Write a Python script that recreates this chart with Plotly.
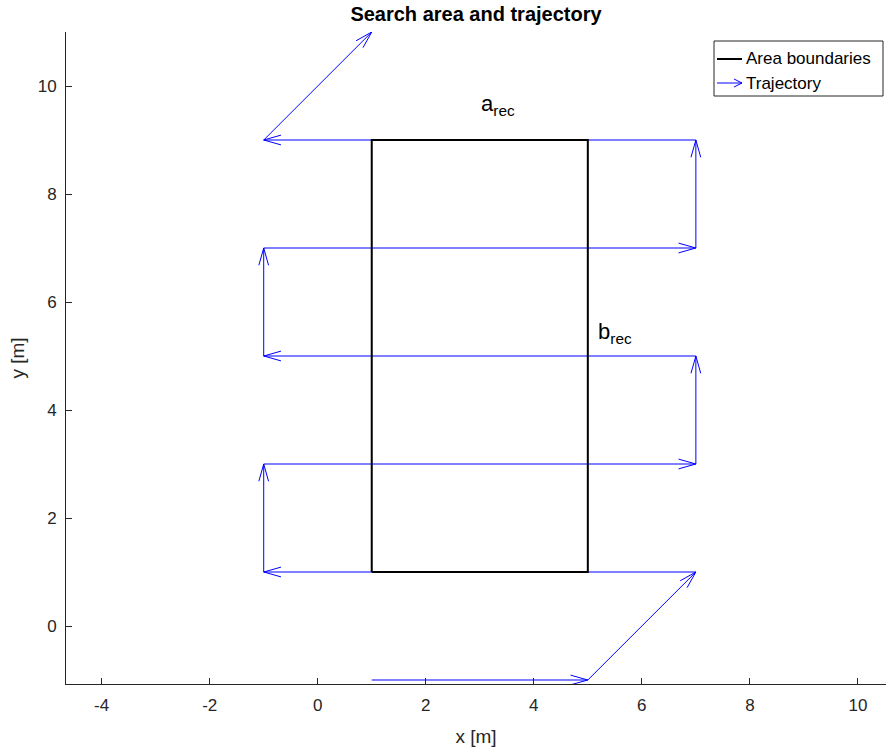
import numpy as np
import plotly.graph_objects as go

# ---- data ----
traj_x = [1, 5, 7, -1, -1, 7, 7, -1, -1, 7, 7, -1, 1]
traj_y = [-1, -1, 1, 1, 3, 3, 5, 5, 7, 7, 9, 9, 11]
rect_x = [1, 5, 5, 1, 1]
rect_y = [1, 1, 9, 9, 1]
x_ticks = [-4, -2, 0, 2, 4, 6, 8, 10]
y_ticks = [0, 2, 4, 6, 8, 10]
labels = [("a<sub>rec</sub>", 2.98, 9.64), ("b<sub>rec</sub>", 5.16, 5.42)]
legend_names = ["Area boundaries", "Trajectory"]

BLUE = "#0000FF"
AX = "#262626"
FONT = "Liberation Sans, Arial, Helvetica, sans-serif"

HEAD_L = 0.32   # arrowhead length (data units)
HEAD_W = 0.09   # arrowhead half-width (data units)

W, H = 886, 751
L, R, T, B = 66, 0, 32, 67
PW, PH = W - L - R, H - T - B


def px(xp):
    return (xp - L) / PW


def py(yp):
    return (H - B - yp) / PH


fig = go.Figure()

# trajectory shafts + heads computed from the path data
sx, sy, hx, hy = [], [], [], []
for i in range(len(traj_x) - 1):
    x0, y0, x1, y1 = traj_x[i], traj_y[i], traj_x[i + 1], traj_y[i + 1]
    sx += [x0, x1, None]
    sy += [y0, y1, None]
    d = np.array([x1 - x0, y1 - y0], dtype=float)
    d /= np.linalg.norm(d)
    n = np.array([-d[1], d[0]])
    b = np.array([x1, y1]) - HEAD_L * d
    p1 = b + HEAD_W * n
    p2 = b - HEAD_W * n
    hx += [p1[0], x1, p2[0], None]
    hy += [p1[1], y1, p2[1], None]

fig.add_trace(go.Scatter(x=sx, y=sy, mode="lines", line=dict(color=BLUE, width=1),
                         showlegend=False, hoverinfo="skip", name=legend_names[1]))
fig.add_trace(go.Scatter(x=hx, y=hy, mode="lines", line=dict(color=BLUE, width=1),
                         showlegend=False, hoverinfo="skip"))
fig.add_trace(go.Scatter(x=rect_x, y=rect_y, mode="lines", name=legend_names[0],
                         line=dict(color="black", width=2), showlegend=False))

for txt, lx, ly in labels:
    fig.add_annotation(x=lx, y=ly, text=txt, showarrow=False, xanchor="left",
                       yanchor="middle", font=dict(size=22, color="black", family=FONT))

# ---- legend (drawn as a boxed key in the top-right corner) ----
fig.add_shape(type="rect", xref="paper", yref="paper", x0=px(714), x1=px(883),
              y0=py(96), y1=py(41), line=dict(color=AX, width=1), fillcolor="white",
              layer="above")
fig.add_shape(type="line", xref="paper", yref="paper", x0=px(717), x1=px(742),
              y0=py(59), y1=py(59), line=dict(color="black", width=2), layer="above")
fig.add_shape(type="line", xref="paper", yref="paper", x0=px(717), x1=px(742),
              y0=py(83), y1=py(83), line=dict(color=BLUE, width=1), layer="above")
fig.add_shape(type="path", xref="paper", yref="paper",
              path=f"M {px(734)},{py(79)} L {px(742)},{py(83)} L {px(734)},{py(87)}",
              line=dict(color=BLUE, width=1), layer="above")
for name, yy in zip(legend_names, [59, 83]):
    fig.add_annotation(xref="paper", yref="paper", x=px(744), y=py(yy), text=name,
                       showarrow=False, xanchor="left", yanchor="middle",
                       font=dict(size=17, color="black", family=FONT))

axis_common = dict(showgrid=False, zeroline=False, showline=True, linecolor=AX,
                   linewidth=1, ticks="inside", ticklen=6, tickcolor=AX,
                   tickfont=dict(size=17, color=AX, family=FONT), mirror=False,
                   automargin=False)

fig.update_xaxes(range=[-4.66, 10.52], tickvals=x_ticks,
                 ticktext=[str(v) for v in x_ticks], ticklabelstandoff=6,
                 title=dict(text="x [m]", font=dict(size=19, color=AX, family=FONT), standoff=15),
                 **axis_common)
fig.update_yaxes(range=[-1.074, 11], tickvals=y_ticks,
                 ticktext=[str(v) for v in y_ticks], ticklabelstandoff=5,
                 title=dict(text="y [m]", font=dict(size=19, color=AX, family=FONT), standoff=8),
                 **axis_common)

fig.update_layout(
    width=W, height=H,
    margin=dict(l=L, r=R, t=T, b=B, autoexpand=False),
    plot_bgcolor="white", paper_bgcolor="white",
    font=dict(family=FONT),
    showlegend=False,
    title=dict(text="<b>Search area and trajectory</b>", x=0.5, xref="paper",
               xanchor="center", y=1 - 14 / H, yref="container", yanchor="middle",
               font=dict(size=20, color="black", family=FONT)),
)

fig.write_html("out.html", config={"displayModeBar": False},
               post_script="document.body.style.margin='0';")
